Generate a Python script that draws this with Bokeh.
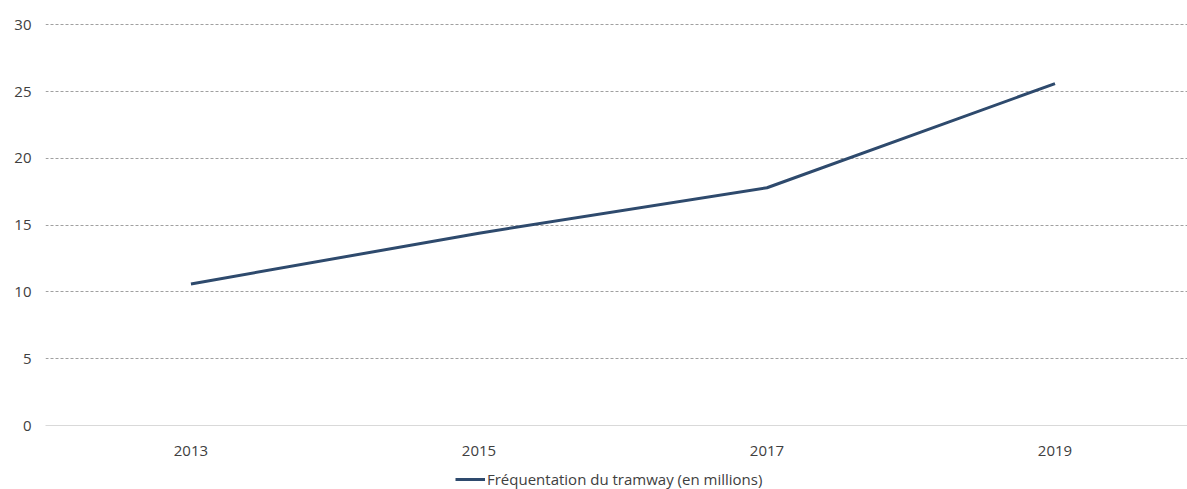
from bokeh.plotting import figure
from bokeh.models import Range1d, FixedTicker, Legend, LegendItem
from bokeh.layouts import column
from bokeh.embed import file_html
from bokeh.resources import INLINE

years = [2013, 2015, 2017, 2019]
ridership = [10.6, 14.4, 17.8, 25.6]
series_name = "Fréquentation du tramway (en millions)"
y_ticks = [0, 5, 10, 15, 20, 25, 30]

FONT = "Open Sans"
TXT = "#404040"
LINE = "#2e4a6d"

p = figure(width=1187, height=462, output_backend="svg", toolbar_location=None,
           x_range=Range1d(2011.99, 2019.92), y_range=Range1d(0, 30.1),
           min_border_left=45, min_border_right=0, min_border_top=23, min_border_bottom=37)
p.outline_line_color = None
p.background_fill_color = "white"
p.border_fill_color = "white"

p.line(years, ridership, line_color=LINE, line_width=3)

p.xaxis.ticker = FixedTicker(ticks=years)
p.yaxis.ticker = FixedTicker(ticks=y_ticks)
for ax in (p.xaxis, p.yaxis):
    ax.major_tick_line_color = None
    ax.minor_tick_line_color = None
    ax.major_label_text_font = FONT
    ax.major_label_text_font_size = "15px"
    ax.major_label_text_color = TXT
p.yaxis.axis_line_color = None
p.yaxis.major_label_standoff = 8
p.xaxis.axis_line_color = "#d9d9d9"
p.xaxis.axis_line_width = 1
p.xaxis.major_label_standoff = 14

p.xgrid.grid_line_color = None
p.ygrid.grid_line_color = "#a0a0a0"
p.ygrid.grid_line_dash = "3 2"
p.ygrid.grid_line_width = 1

# legend strip below the chart (its frame is aligned with the chart's frame)
lg = figure(width=1187, height=27, output_backend="svg", toolbar_location=None,
            x_range=Range1d(0, 1), y_range=Range1d(0, 1),
            x_axis_location=None, y_axis_location=None,
            min_border_left=45, min_border_right=0, min_border_top=0, min_border_bottom=0)
lg.outline_line_color = None
lg.grid.visible = False
# same series, outside this strip's ranges: only its legend entry shows
lr = lg.line(years, ridership, line_color=LINE, line_width=3)
legend = Legend(items=[LegendItem(label=series_name, renderers=[lr])],
                orientation="horizontal", location=(410, 0),
                label_text_font=FONT, label_text_font_size="15px", label_text_color=TXT,
                glyph_width=30, glyph_height=16, label_height=16, label_standoff=2,
                padding=0, margin=0, spacing=0, border_line_color=None,
                background_fill_alpha=0)
lg.add_layout(legend)

open("out.html", "w").write(file_html(column(p, lg, spacing=0), INLINE))
